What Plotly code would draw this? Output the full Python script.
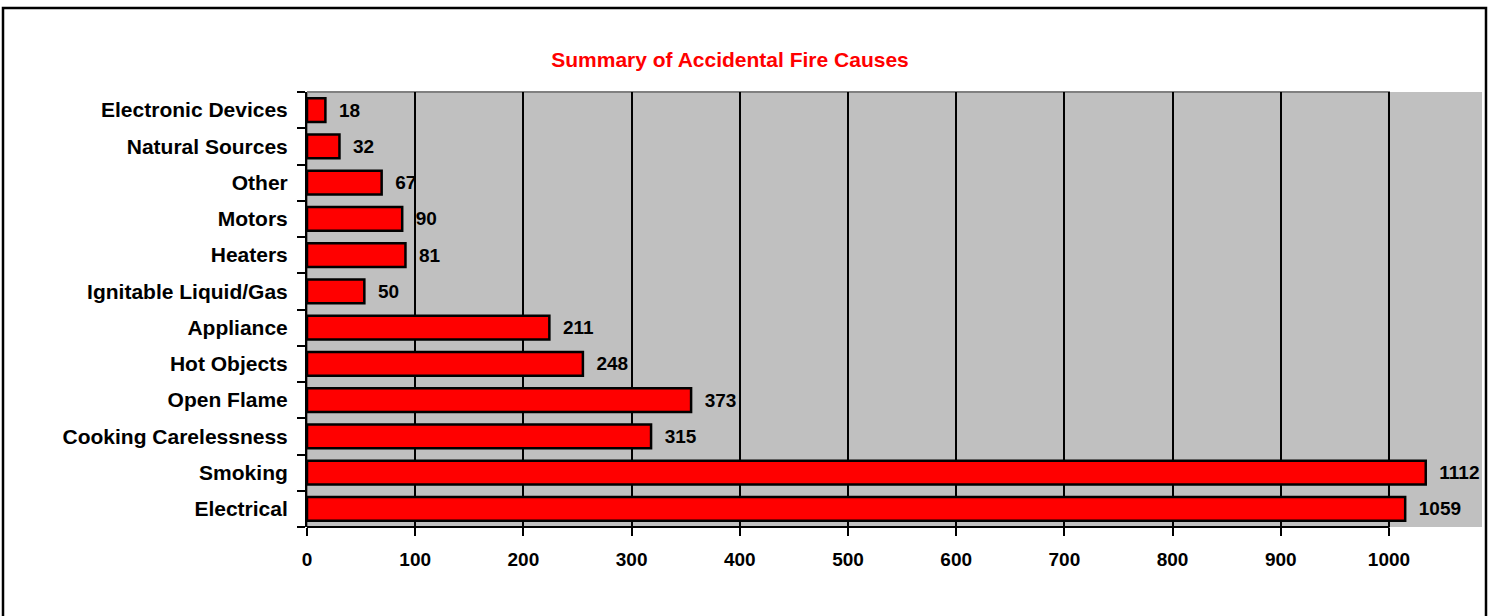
import plotly.graph_objects as go

categories = ["Electrical", "Smoking", "Cooking Carelessness", "Open Flame", "Hot Objects",
              "Appliance", "Ignitable Liquid/Gas", "Heaters", "Motors", "Other",
              "Natural Sources", "Electronic Devices"]
# bar lengths as drawn in the picture
bar_lengths = [1015, 1034, 318, 355, 255, 224, 53, 91, 88, 69, 30, 17]
# value labels as printed
value_labels = ["1059", "1112", "315", "373", "248", "211", "50", "81", "90", "67", "32", "18"]
tick_values = [0, 100, 200, 300, 400, 500, 600, 700, 800, 900, 1000]

FONT = "Liberation Sans, Arial, sans-serif"

fig = go.Figure(go.Bar(
    y=categories, x=bar_lengths, orientation="h",
    text=["\u00a0\u00a0" + t for t in value_labels], textposition="outside",
    textfont=dict(family=FONT, size=19, color="black", weight="bold"),
    marker=dict(color="#FF0000", line=dict(color="black", width=2.5)),
    width=0.66, cliponaxis=False,
))

W, H = 1492, 616
L, R, T, B = 307, 10, 92, 89
pw, ph = W - L - R, H - T - B

def px(xp):
    return (xp - L) / pw

def py(yp):
    return (H - B - yp) / ph

fig.update_layout(
    width=W, height=H,
    margin=dict(l=L, r=R, t=T, b=B, autoexpand=False),
    paper_bgcolor="white", plot_bgcolor="#C0C0C0",
    showlegend=False,
    title=dict(text="Summary of Accidental Fire Causes",
               font=dict(family=FONT, size=21, color="#FF0000", weight="bold"),
               x=730 / W, xanchor="center", y=1 - 60 / H, yanchor="middle",
               xref="container", yref="container"),
    xaxis=dict(range=[0, 1086], tickvals=tick_values, ticks="outside", ticklen=8,
               tickwidth=2, tickcolor="black", showgrid=True, gridcolor="black",
               gridwidth=2, zeroline=False, showline=False,
               tickfont=dict(family=FONT, size=19, color="black", weight="bold"),
               ticklabelstandoff=7),
    yaxis=dict(type="category", categoryorder="array", categoryarray=categories,
               tickson="boundaries", ticks="outside", ticklen=8, tickwidth=2,
               tickcolor="black", showline=True, linecolor="black", linewidth=2,
               showgrid=False,
               tickfont=dict(family=FONT, size=21, color="black", weight="bold"),
               ticklabelstandoff=13),
    bargap=0.34,
)

# plot frame (gray) up to 1000 drawn between grid and bars
fig.add_shape(type="rect", xref="x", yref="paper", x0=0, x1=1000, y0=0, y1=1,
              line=dict(color="#808080", width=2), layer="between")
# x axis baseline up to 1000
fig.add_shape(type="line", xref="x", yref="paper", x0=0, x1=1000, y0=0, y1=0,
              line=dict(color="black", width=2), layer="above")
# outer border
fig.add_shape(type="rect", xref="paper", yref="paper",
              x0=px(3), x1=px(1486), y0=py(640), y1=py(8),
              line=dict(color="black", width=2.5), layer="above")

fig.write_html("out.html", config={"displayModeBar": False},
               post_script="document.body.style.margin='0';document.body.style.padding='0';")
